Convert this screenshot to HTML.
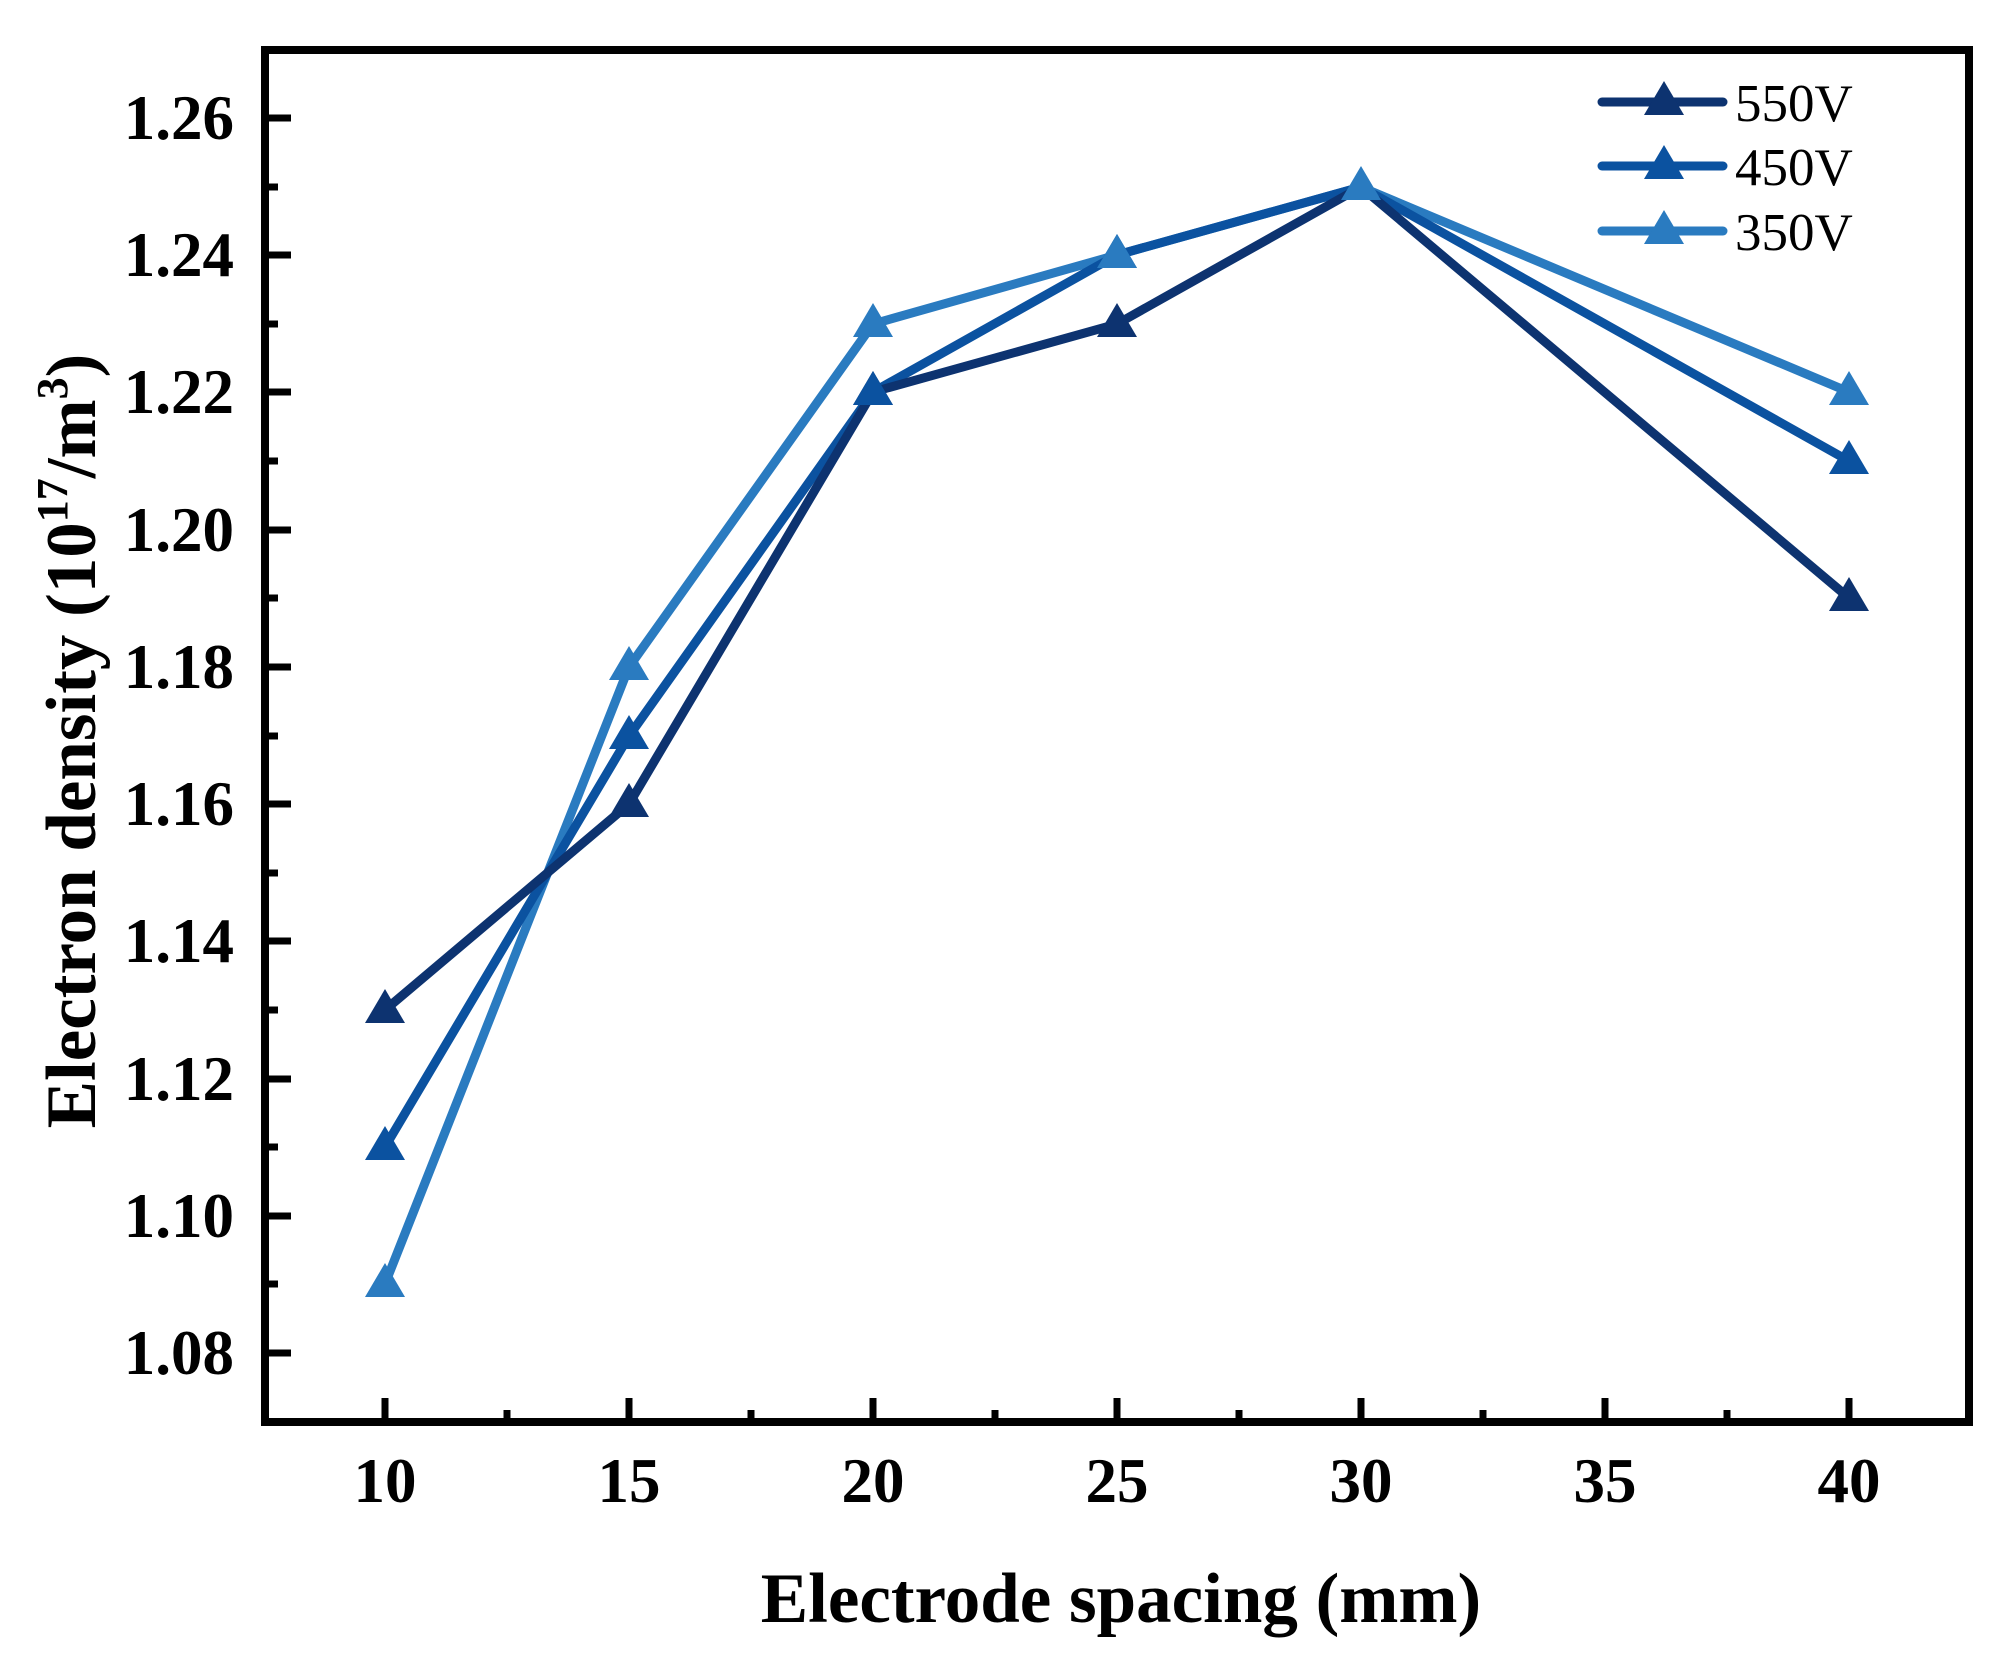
<!DOCTYPE html>
<html><head><meta charset="utf-8"><style>
html,body{margin:0;padding:0;background:#fff;}
svg{display:block;}
text{font-family:"Liberation Serif","Times New Roman",serif;fill:#000;}
</style></head><body>
<svg width="2011" height="1660" viewBox="0 0 2011 1660" xmlns="http://www.w3.org/2000/svg">
<g stroke="#000" stroke-width="7">
<line x1="385" y1="1422" x2="385" y2="1398"/>
<line x1="629" y1="1422" x2="629" y2="1398"/>
<line x1="873" y1="1422" x2="873" y2="1398"/>
<line x1="1117" y1="1422" x2="1117" y2="1398"/>
<line x1="1361" y1="1422" x2="1361" y2="1398"/>
<line x1="1605" y1="1422" x2="1605" y2="1398"/>
<line x1="1849" y1="1422" x2="1849" y2="1398"/>
<line x1="507" y1="1422" x2="507" y2="1410"/>
<line x1="751" y1="1422" x2="751" y2="1410"/>
<line x1="995" y1="1422" x2="995" y2="1410"/>
<line x1="1239" y1="1422" x2="1239" y2="1410"/>
<line x1="1483" y1="1422" x2="1483" y2="1410"/>
<line x1="1727" y1="1422" x2="1727" y2="1410"/>
<line x1="265" y1="1353" x2="291" y2="1353"/>
<line x1="265" y1="1216" x2="291" y2="1216"/>
<line x1="265" y1="1079" x2="291" y2="1079"/>
<line x1="265" y1="941" x2="291" y2="941"/>
<line x1="265" y1="804" x2="291" y2="804"/>
<line x1="265" y1="667" x2="291" y2="667"/>
<line x1="265" y1="530" x2="291" y2="530"/>
<line x1="265" y1="392" x2="291" y2="392"/>
<line x1="265" y1="255" x2="291" y2="255"/>
<line x1="265" y1="118" x2="291" y2="118"/>
<line x1="265" y1="1284" x2="278" y2="1284"/>
<line x1="265" y1="1147" x2="278" y2="1147"/>
<line x1="265" y1="1010" x2="278" y2="1010"/>
<line x1="265" y1="873" x2="278" y2="873"/>
<line x1="265" y1="736" x2="278" y2="736"/>
<line x1="265" y1="598" x2="278" y2="598"/>
<line x1="265" y1="461" x2="278" y2="461"/>
<line x1="265" y1="324" x2="278" y2="324"/>
<line x1="265" y1="187" x2="278" y2="187"/>
</g>
<rect x="265" y="50" width="1704" height="1372" fill="none" stroke="#000" stroke-width="8"/>
<g font-size="63" font-weight="bold" text-anchor="end">
<text x="234" y="1374">1.08</text>
<text x="234" y="1237">1.10</text>
<text x="234" y="1100">1.12</text>
<text x="234" y="962">1.14</text>
<text x="234" y="825">1.16</text>
<text x="234" y="688">1.18</text>
<text x="234" y="551">1.20</text>
<text x="234" y="413">1.22</text>
<text x="234" y="276">1.24</text>
<text x="234" y="139">1.26</text>
</g>
<g font-size="63" font-weight="bold" text-anchor="middle">
<text x="385" y="1502">10</text>
<text x="629" y="1502">15</text>
<text x="873" y="1502">20</text>
<text x="1117" y="1502">25</text>
<text x="1361" y="1502">30</text>
<text x="1605" y="1502">35</text>
<text x="1849" y="1502">40</text>
</g>
<text x="1121" y="1622" font-size="71" font-weight="bold" text-anchor="middle">Electrode spacing (mm)</text>
<text transform="translate(95,741) rotate(-90)" font-size="71" font-weight="bold" text-anchor="middle">Electron density (10<tspan font-size="44" dy="-28">17</tspan><tspan dy="28">/m</tspan><tspan font-size="44" dy="-28">3</tspan><tspan dy="28">)</tspan></text>
<polyline fill="none" stroke="#2a7bc0" stroke-width="9" stroke-linejoin="round" points="385,1284 629,667 873,324 1117,255 1361,187 1849,392"/>
<polyline fill="none" stroke="#0b52a0" stroke-width="9" stroke-linejoin="round" points="385,1147 629,736 873,392 1117,255 1361,187 1849,461"/>
<polyline fill="none" stroke="#0d3370" stroke-width="9" stroke-linejoin="round" points="385,1010 629,804 873,392 1117,324 1361,187 1849,598"/>
<g fill="#0d3370">
<polygon points="385,989 405,1023 365,1023"/>
<polygon points="629,783 649,817 609,817"/>
<polygon points="873,371 893,405 853,405"/>
<polygon points="1117,303 1137,337 1097,337"/>
<polygon points="1849,577 1869,611 1829,611"/>
</g>
<g fill="#0b52a0">
<polygon points="385,1126 405,1160 365,1160"/>
<polygon points="629,715 649,749 609,749"/>
<polygon points="873,371 893,405 853,405"/>
<polygon points="1117,234 1137,268 1097,268"/>
<polygon points="1849,440 1869,474 1829,474"/>
</g>
<g fill="#2a7bc0">
<polygon points="385,1263 405,1297 365,1297"/>
<polygon points="629,646 649,680 609,680"/>
<polygon points="873,303 893,337 853,337"/>
<polygon points="1117,234 1137,268 1097,268"/>
<polygon points="1361,166 1381,200 1341,200"/>
<polygon points="1849,371 1869,405 1829,405"/>
</g>
<g stroke-width="9" stroke-linecap="round">
<line x1="1602" y1="102" x2="1723" y2="102" stroke="#0d3370"/>
<line x1="1602" y1="166" x2="1723" y2="166" stroke="#0b52a0"/>
<line x1="1602" y1="231" x2="1723" y2="231" stroke="#2a7bc0"/>
</g>
<polygon points="1664,81 1684,115 1644,115" fill="#0d3370"/>
<polygon points="1664,145 1684,179 1644,179" fill="#0b52a0"/>
<polygon points="1664,210 1684,244 1644,244" fill="#2a7bc0"/>
<g font-size="53">
<text x="1735" y="121">550V</text>
<text x="1735" y="185">450V</text>
<text x="1735" y="250">350V</text>
</g>
</svg>
</body></html>
